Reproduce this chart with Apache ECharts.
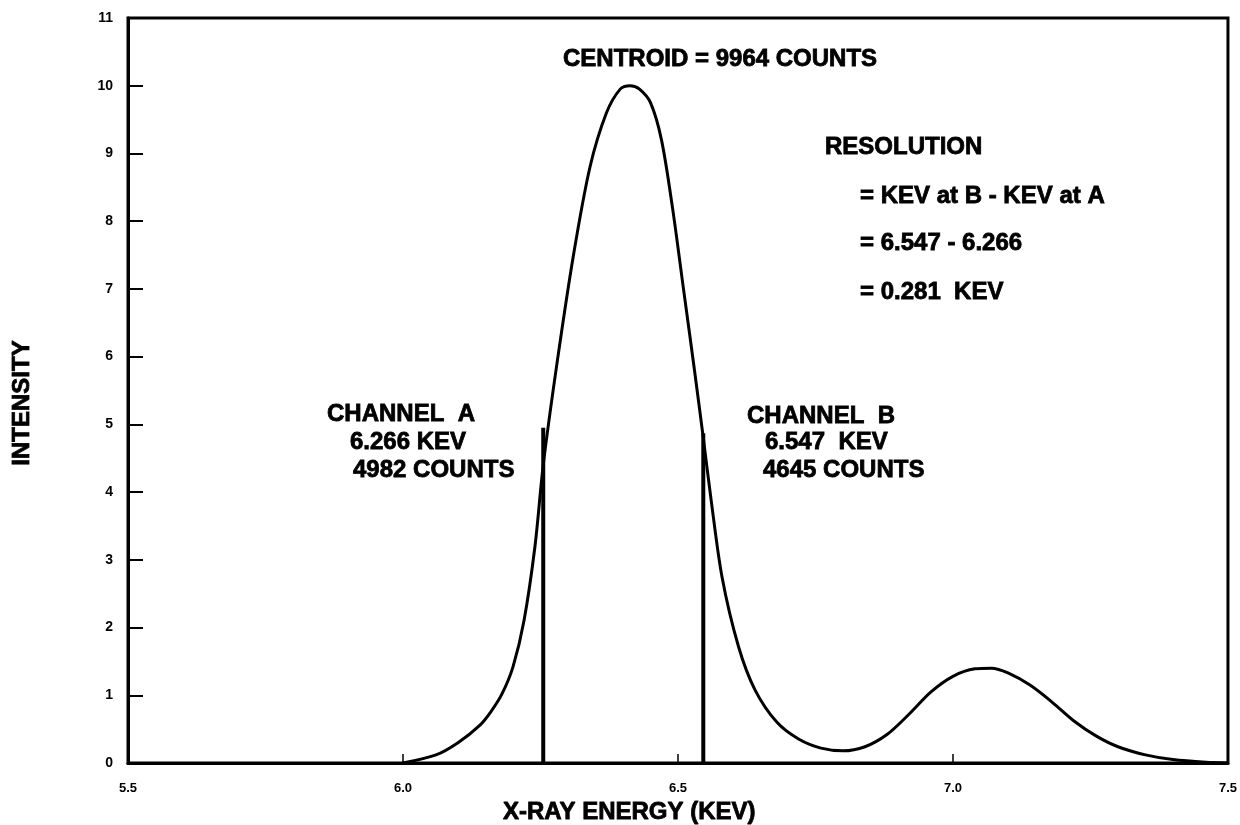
<!DOCTYPE html>
<html>
<head>
<meta charset="utf-8">
<script src="https://cdn.jsdelivr.net/npm/echarts@6/dist/echarts.min.js"></script>
<style>
  html, body { margin: 0; padding: 0; background: #fff; }
  #chart { width: 1240px; height: 825px; }
</style>
</head>
<body>
<div id="chart"></div>
<script>
// spectrum (keV, intensity)
var energy = [6.00, 6.06, 6.10, 6.14, 6.16, 6.18, 6.20, 6.22, 6.24, 6.255, 6.28, 6.31, 6.34, 6.37, 6.395, 6.413,
              6.43, 6.45, 6.47, 6.49, 6.51, 6.53, 6.546, 6.56, 6.58, 6.61, 6.64, 6.68, 6.72, 6.76, 6.80,
              6.84, 6.88, 6.92, 6.96, 7.00, 7.04, 7.07, 7.10, 7.14, 7.18, 7.22, 7.26, 7.30, 7.35, 7.40, 7.46, 7.50];
var intensity = [0.0, 0.12, 0.3, 0.56, 0.76, 1.02, 1.42, 2.1, 3.2, 4.4, 5.9, 7.5, 8.8, 9.6, 9.95, 10.0,
                 9.95, 9.75, 9.2, 8.2, 7.0, 5.8, 4.8, 3.9, 2.75, 1.72, 1.08, 0.6, 0.35, 0.22, 0.18,
                 0.24, 0.42, 0.72, 1.05, 1.28, 1.39, 1.4, 1.33, 1.15, 0.9, 0.62, 0.4, 0.24, 0.12, 0.05, 0.01, 0.0];
// half-maximum channels
var channelA = [6.255, 4.95];
var channelB = [6.546, 4.87];

var yTicks = ['0', '1', '2', '3', '4', '5', '6', '7', '8', '9', '10', '11'];

var txtFont = 'Liberation Sans';
function note(x, y, s, rot) {
    return {
        type: 'text', x: x, y: y, rotation: rot || 0,
        style: {
            text: s, font: 'bold 24px "' + txtFont + '"', fill: '#000',
            stroke: '#000', lineWidth: 0.8,
            align: rot ? 'center' : 'left', verticalAlign: 'middle'
        }
    };
}

var mychart = echarts.init(document.getElementById('chart'));
mychart.setOption({
    animation: false,
    grid: { left: 128, right: 11, top: 18, bottom: 62, show: true, borderColor: '#000', borderWidth: 3, backgroundColor: 'transparent' },
    xAxis: {
        type: 'value', min: 5.5, max: 7.5, interval: 0.5,
        axisLine: { lineStyle: { color: '#000', width: 3 } },
        axisTick: { inside: true, length: 9, lineStyle: { color: '#000', width: 1.5 } },
        axisLabel: { fontFamily: txtFont, fontWeight: 'bold', fontSize: 13, color: '#000', margin: 19,
            formatter: function (v) { return v.toFixed(1); } },
        splitLine: { show: false }
    },
    yAxis: {
        type: 'value', min: 0, max: 11, interval: 1,
        axisLine: { lineStyle: { color: '#000', width: 3 } },
        axisTick: { inside: true, length: 15, lineStyle: { color: '#000', width: 2 } },
        axisLabel: { fontFamily: txtFont, fontWeight: 'bold', fontSize: 14, color: '#000', margin: 15,
            formatter: function (v) { return yTicks[v]; } },
        splitLine: { show: false }
    },
    series: [
        {
            type: 'line', smooth: 0.3, symbol: 'none',
            lineStyle: { color: '#000', width: 3 },
            data: energy.map(function (e, i) { return [e, intensity[i]]; })
        },
        {
            type: 'line', symbol: 'none', lineStyle: { color: '#000', width: 4 },
            data: [[channelA[0], 0], [channelA[0], channelA[1]]]
        },
        {
            type: 'line', symbol: 'none', lineStyle: { color: '#000', width: 4 },
            data: [[channelB[0], 0], [channelB[0], channelB[1]]]
        }
    ],
    graphic: [
        note(563, 59, 'CENTROID = 9964 COUNTS'),
        note(825, 147, 'RESOLUTION'),
        note(860, 196, '= KEV at B - KEV at A'),
        note(860, 243, '= 6.547 - 6.266'),
        note(860, 292, '= 0.281  KEV'),
        note(327, 414, 'CHANNEL  A'),
        note(350, 442, '6.266 KEV'),
        note(353, 470, '4982 COUNTS'),
        note(747, 416, 'CHANNEL  B'),
        note(765, 442, '6.547  KEV'),
        note(763, 470, '4645 COUNTS'),
        note(503, 812, 'X-RAY ENERGY (KEV)'),
        note(22, 403, 'INTENSITY', Math.PI / 2)
    ]
});
</script>
</body>
</html>
